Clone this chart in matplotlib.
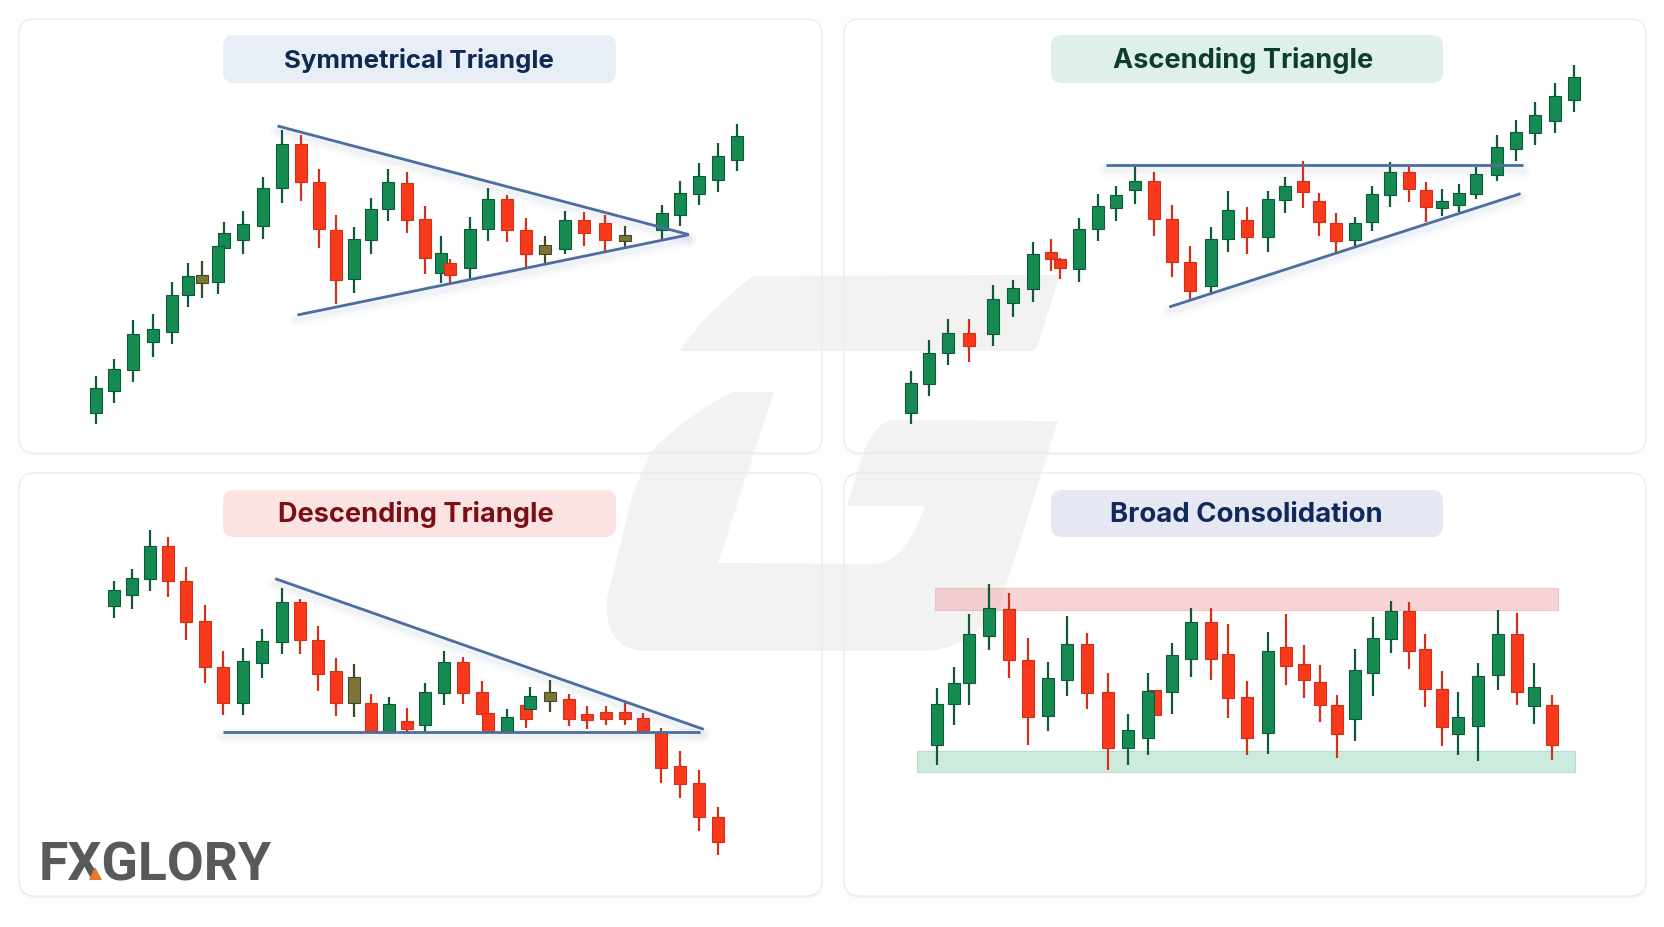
import matplotlib
matplotlib.use("Agg")
import matplotlib.pyplot as plt
from matplotlib.patches import FancyBboxPatch, PathPatch, Rectangle, Polygon
from matplotlib.path import Path

# ---------- data (time index, wick high, body top, body bottom, wick low, direction) ----------
sym_t = [79,118,160,202,245,279,310,358,345,399,442,484,525,564,601,641,678,714,755,794,830,850,892,932,974,1014,1057,1100,1142,1186,1230,1311,1351,1391,1433,1475]
sym_h = [172,222,340,358,455,512,518,633,562,667,770,910,895,793,655,620,707,792,783,681,592,522,648,735,716,647,592,668,665,655,622,685,757,810,872,927]
sym_a = [135,192,298,312,414,473,476,600,562,628,737,867,867,753,611,584,672,753,752,642,542,510,612,702,702,610,565,640,640,631,596,660,720,771,833,892]
sym_b = [61,128,190,275,303,416,450,555,453,581,621,735,753,614,461,463,580,674,640,527,480,474,495,612,610,538,538,554,600,581,577,610,655,717,760,821]
sym_l = [28,90,155,228,268,378,405,555,417,539,583,692,698,555,388,422,537,638,600,477,452,450,462,578,573,500,512,538,562,548,559,582,622,684,725,788]
sym_d = "GGGGGGMGGGGGRRRGGGRRGRGGRRMGRRMGGGGG"
sym_upper_t, sym_upper_p = [474,1370], [922,596]
sym_lower_t, sym_lower_p = [517,1370], [355,596]

asc_t = [67,106,148,193,246,289,333,372,393,433,475,515,555,597,637,676,720,759,800,844,882,921,957,993,1035,1072,1111,1152,1189,1225,1260,1299,1343,1385,1427,1470,1512]
asc_h = [238,330,393,394,494,509,624,633,575,697,769,793,852,834,736,612,668,776,728,778,820,868,772,710,700,793,864,854,805,782,797,850,944,989,1043,1100,1156]
asc_a = [200,292,351,352,452,487,588,595,572,662,732,765,808,808,693,563,632,720,690,753,792,807,748,681,680,767,833,833,780,747,771,829,908,954,1005,1062,1118]
asc_b = [112,198,290,312,348,440,482,573,546,544,662,725,780,692,563,478,493,633,639,638,750,773,684,628,631,685,765,782,728,725,734,768,825,902,950,987,1049]
asc_l = [78,162,255,265,312,400,445,537,512,505,627,688,738,643,518,450,465,593,588,595,712,726,643,593,610,657,728,745,683,702,715,752,808,867,914,950,1014]
asc_d = "GGGRGGGRRGGGGRRRGGRGGRRRGGGRRGGGGGGGG"[:37]
asc_upper_t, asc_upper_p = [492,1400], [855,855]
asc_lower_t, asc_lower_p = [630,1395], [429,769]

des_t = [56,99,142,185,229,273,317,363,409,455,500,542,585,627,668,710,752,796,841,886,931,945,990,1035,1045,1092,1137,1181,1225,1270,1313,1357,1402,1447,1492]
des_h = [888,923,1040,1020,930,815,678,687,742,865,834,753,655,638,547,539,505,582,678,660,587,492,503,520,570,590,548,513,511,521,492,446,376,320,208]
des_a = [860,895,993,993,887,766,630,647,708,824,824,711,617,599,520,519,466,554,645,645,554,492,480,514,541,554,532,487,494,493,476,433,332,282,179]
des_b = [813,846,894,888,764,630,520,522,642,704,710,609,522,521,437,437,443,456,552,552,487,437,437,473,503,528,474,470,474,474,437,325,277,178,103]
des_l = [775,804,857,838,709,581,484,485,597,669,667,558,482,479,435,432,432,435,516,519,485,435,431,446,500,493,452,442,455,456,428,282,236,136,64]
des_d = "GGGRRRRGGGRRRMRGRGGRRRGRGMRRRRRRRRR"
des_upper_t, des_upper_p = [440,1458], [894,442]
des_lower_t, des_lower_p = [317,1450], [435,435]

con_t = [83,122,155,199,245,286,331,375,420,465,510,572,555,609,652,696,735,778,824,865,905,940,978,1020,1059,1099,1140,1177,1214,1251,1295,1339,1381,1421,1461]
con_h = [645,710,867,957,932,795,723,862,811,692,569,640,690,782,885,885,838,668,815,868,775,715,625,762,860,906,905,808,697,633,722,880,872,722,624]
con_a = [599,661,807,885,883,729,676,778,777,633,519,640,638,744,843,843,748,618,757,769,717,663,595,701,797,877,876,763,644,559,682,808,808,648,596]
con_b = [475,598,660,801,729,560,562,671,632,467,467,564,497,633,734,733,615,497,512,712,671,595,509,553,692,793,758,644,529,508,533,686,635,593,475]
con_l = [415,536,595,760,675,476,517,622,582,399,415,564,446,569,678,669,557,445,448,656,617,544,436,488,623,752,702,589,472,444,426,639,595,537,430]
con_d = "GGGGRRGGRRGRGGGRRRGRRRRGGGRRRGGGRGR"
resist_t, resist_p = [78,1473], [880,945]
support_t, support_p = [39,1511], [393,458]

titles = ["Symmetrical Triangle", "Ascending Triangle", "Descending Triangle", "Broad Consolidation"]
brand = "FXGLORY"

# ---------- style ----------
W, H = 1664, 928
GREEN, GREEN_E, RED, RED_E, MIX, MIX_E = "#158a51", "#0c5a38", "#f8391b", "#d2301a", "#7d7436", "#3f4a25"
LINE = "#4d6d9f"
fig = plt.figure(figsize=(W/100, H/100), dpi=100, facecolor="#fdfdfe")
bg = fig.add_axes([0, 0, 1, 1])
bg.set_xlim(0, W); bg.set_ylim(H, 0); bg.axis("off")

rects = [(19, 20, 822, 454), (844, 20, 1646, 454), (19, 474, 822, 897), (844, 474, 1646, 897)]
limits = [((-89.3, 1659.6), (-59, 1243)), ((-78.4, 1668.3), (-9, 1293)),
          ((-168.7, 1739.2), (-58, 1211)), ((-125.4, 1671), (22, 1291))]

def rounded(x0, y0, x1, y1, r, **kw):
    return FancyBboxPatch((x0 + r, y0 + r), x1 - x0 - 2*r, y1 - y0 - 2*r,
                          boxstyle=f"round,pad={r},rounding_size={r}", **kw)

for (x0, y0, x1, y1) in rects:
    bg.add_patch(rounded(x0, y0 + 2, x1, y1 + 2, 16, fc="#f3f5f8", ec="none", zorder=1))
    bg.add_patch(rounded(x0, y0, x1, y1, 16, fc="white", ec="none", zorder=1.1))

# watermark logo
WM = "#f2f2f3"
top = Path([(679,352),(707,312),(753,277),(753,277),(1060,276),(1037,348),(1033,352),(679,352)],
           [Path.MOVETO,Path.CURVE3,Path.CURVE3,Path.LINETO,Path.LINETO,Path.LINETO,Path.LINETO,Path.CLOSEPOLY])
low_pts = [(774,393),(733,393),(690,414),(653,450),(633,493),(607,600),
           (603,648),(642,652),(923,652),(965,652),(998,612),(1058,422),
           (890,421),(870,428),(860,465),(847,507),(925,507),(905,565),(873,565),(718,564),(774,393)]
low_codes = [Path.MOVETO,Path.LINETO,Path.CURVE3,Path.CURVE3,Path.LINETO,Path.LINETO,
             Path.CURVE3,Path.CURVE3,Path.LINETO,Path.CURVE3,Path.CURVE3,Path.LINETO,
             Path.LINETO,Path.CURVE3,Path.CURVE3,Path.LINETO,Path.LINETO,Path.CURVE3,Path.CURVE3,Path.LINETO,Path.CLOSEPOLY]
bg.add_patch(PathPatch(top, fc=WM, ec="none", zorder=2))
bg.add_patch(PathPatch(Path(low_pts, low_codes), fc=WM, ec="none", zorder=2))

for (x0, y0, x1, y1) in rects:
    bg.add_patch(rounded(x0, y0, x1, y1, 16, fc="none", ec="#e9ecf1", lw=1.0, zorder=3))

# title pills
pills = [(223, 36, 616, 84, "#e7eef6", "#0f2a52", 419, 18.6), (1051, 36, 1443, 84, "#dff0e8", "#0c3d2e", 1243, 19.5),
         (223, 491, 616, 538, "#fae3e2", "#7a0f14", 416, 19.5), (1051, 491, 1443, 538, "#e5e7f3", "#10295a", 1246, 19.8)]
for (x0, y0, x1, y1, fc, tc, cx, fs), title in zip(pills, titles):
    bg.add_patch(rounded(x0, y0, x1, y1, 11, fc=fc, ec="none", zorder=4))
    bg.text(cx, (y0 + y1)/2 + 0.5, title, color=tc, fontsize=fs, fontweight="bold",
            family="Inter", ha="center", va="center", zorder=5)

# brand mark
bg.text(39, 881, brand, color="#58595b", fontsize=38.5, fontweight="bold", family="Roboto",
        ha="left", va="baseline", zorder=5)
bg.add_patch(Polygon([(95, 868), (102, 881), (89, 881)], closed=True, fc="#e8762c", ec="none", zorder=6))


def panel(i):
    (x0, y0, x1, y1) = rects[i]
    ax = fig.add_axes([x0/W, 1 - y1/H, (x1 - x0)/W, (y1 - y0)/H])
    ax.set_xlim(*limits[i][0]); ax.set_ylim(*limits[i][1])
    ax.axis("off"); ax.patch.set_alpha(0)
    return ax, (limits[i][0][1] - limits[i][0][0]) / (x1 - x0)


def candles(ax, per_px, t, h, a, b, l, d):
    cols = {"G": (GREEN, GREEN_E, GREEN_E), "R": (RED, RED_E, RED_E), "M": (MIX, MIX_E, MIX_E)}
    width = 12.0 * per_px
    for tt, hh, aa, bb, ll, dd in zip(t, h, a, b, l, d):
        fc, ec, wc = cols[dd]
        ax.vlines(tt, ll, hh, color=wc, lw=1.6, zorder=6)
        ax.bar(tt, aa - bb, width=width, bottom=bb, color=fc, edgecolor=ec, linewidth=0.8, zorder=7)


def trend(ax, t, p):
    for lw, alpha in ((11, 0.05), (7, 0.06), (4, 0.07)):
        ax.plot(t, [v - 14 for v in p], color="#aebbd2", lw=lw, alpha=alpha, solid_capstyle="round", zorder=4)
    ax.plot(t, p, color=LINE, lw=2.0, solid_capstyle="butt", zorder=8)


ax, k = panel(0)
candles(ax, k, sym_t, sym_h, sym_a, sym_b, sym_l, sym_d)
trend(ax, sym_upper_t, sym_upper_p); trend(ax, sym_lower_t, sym_lower_p)

ax, k = panel(1)
candles(ax, k, asc_t, asc_h, asc_a, asc_b, asc_l, asc_d)
trend(ax, asc_upper_t, asc_upper_p); trend(ax, asc_lower_t, asc_lower_p)

ax, k = panel(2)
candles(ax, k, des_t, des_h, des_a, des_b, des_l, des_d)
trend(ax, des_upper_t, des_upper_p); trend(ax, des_lower_t, des_lower_p)

ax, k = panel(3)
ax.add_patch(Rectangle((resist_t[0], resist_p[0]), resist_t[1]-resist_t[0], resist_p[1]-resist_p[0],
                       fc="#f0a0a4", ec="#e89a9e", lw=0.8, alpha=0.45, zorder=3))
ax.add_patch(Rectangle((support_t[0], support_p[0]), support_t[1]-support_t[0], support_p[1]-support_p[0],
                       fc="#86d0ae", ec="#6fc19b", lw=0.8, alpha=0.42, zorder=3))
candles(ax, k, con_t, con_h, con_a, con_b, con_l, con_d)

fig.savefig("out.png", dpi=100, facecolor=fig.get_facecolor())
